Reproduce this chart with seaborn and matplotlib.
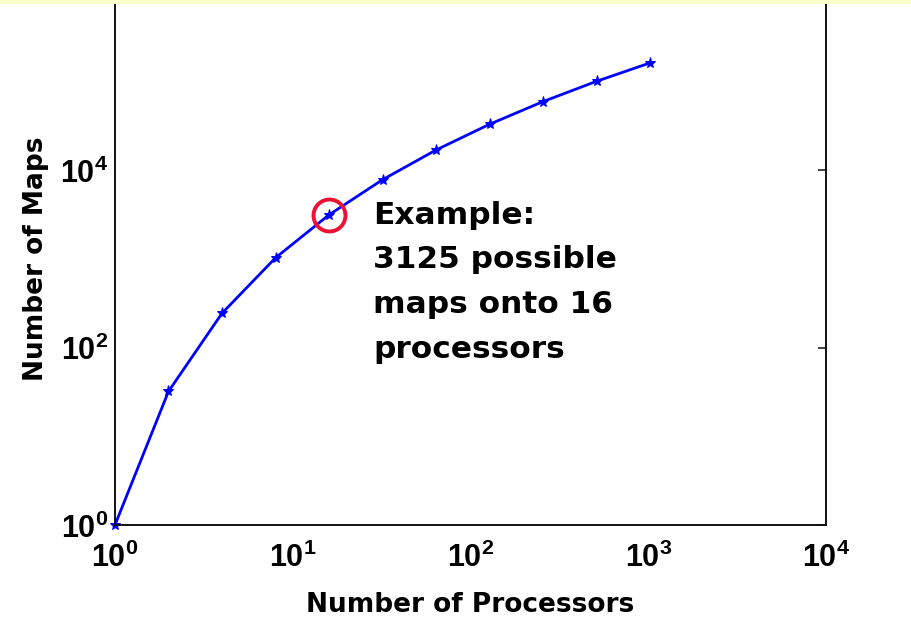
import math
import matplotlib
matplotlib.use("Agg")
import matplotlib.pyplot as plt
import seaborn as sns
from matplotlib.patches import Rectangle
from matplotlib.ticker import FixedLocator, NullLocator, LogLocator, FuncFormatter

# processors vs number of possible maps
procs = [1, 2, 4, 8, 16, 32, 64, 128, 256, 512, 1024]
maps = [1, 32, 243, 1024, 3125, 7776, 16807, 32768, 59049, 100000, 161051]
example_p = 16
example_maps = 3125
note = "Example:\n3125 possible\nmaps onto 16\nprocessors"

sns.set_style("white")
plt.rcParams["font.family"] = ["DejaVu Sans"]
plt.rcParams["text.color"] = "black"
plt.rcParams["axes.labelcolor"] = "black"
plt.rcParams["xtick.color"] = "black"
plt.rcParams["ytick.color"] = "black"
plt.rcParams["mathtext.fontset"] = "custom"
plt.rcParams["mathtext.rm"] = "Liberation Sans:bold"
plt.rcParams["mathtext.bf"] = "Liberation Sans:bold"
plt.rcParams["mathtext.it"] = "Liberation Sans:bold"

fig = plt.figure(figsize=(9.11, 6.18), dpi=100)
ax = fig.add_axes([0.1262, 0.1505, 0.7805, 0.8616])

sns.lineplot(x=procs, y=maps, ax=ax, color="#0000ff", linewidth=2.0,
             marker="*", markersize=8, markeredgecolor="#0000ff", clip_on=False)
ax.plot(example_p, example_maps, "o", mfc="none", mec="#ee1133", ms=23, mew=2.8,
        clip_on=False)

ax.set_xscale("log")
ax.set_yscale("log")
ax.set_xlim(1, 1e4)
ax.set_ylim(1, 1e6)

ax.xaxis.set_major_locator(FixedLocator([1, 10, 100, 1000, 10000]))
ax.xaxis.set_minor_locator(LogLocator(base=10, subs=range(2, 10), numticks=20))
ax.yaxis.set_major_locator(FixedLocator([1, 1e2, 1e4]))
ax.yaxis.set_minor_locator(NullLocator())
fmt = FuncFormatter(lambda v, pos: r"$\mathbf{10^{%d}}$" % round(math.log10(v)))
ax.xaxis.set_major_formatter(fmt)
ax.yaxis.set_major_formatter(fmt)

ax.tick_params(which="both", direction="in", top=True, right=True,
               labelsize=22, width=1.2, color="#222222")
ax.tick_params(which="major", length=6)
ax.tick_params(which="minor", length=4)
ax.tick_params(axis="x", pad=12)
ax.tick_params(axis="y", pad=5)
for s in ax.spines.values():
    s.set_linewidth(1.4)
    s.set_color("#111111")

ax.set_xlabel("Number of Processors", fontsize=19, fontweight="bold", labelpad=14)
ax.set_ylabel("Number of Maps", fontsize=19, fontweight="bold", labelpad=8)

ax.text(0.363, 0.609, note, transform=ax.transAxes, fontsize=22.5,
        fontweight="bold", va="top", ha="left", linespacing=1.68)

# yellow slide strip at the very top
fig.add_artist(Rectangle((0, 1 - 4 / 618), 1, 4 / 618, transform=fig.transFigure,
                         facecolor="#ffffcc", edgecolor="none", zorder=10))

fig.savefig("out.png", dpi=100)
